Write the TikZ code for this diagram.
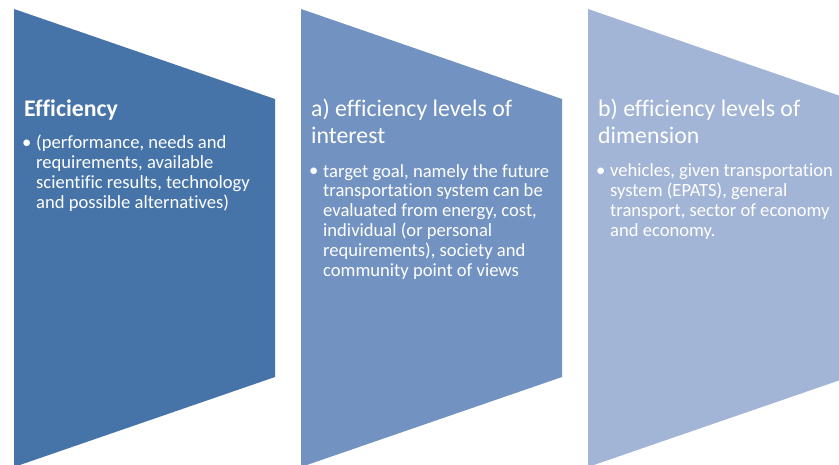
\documentclass[tikz,border=0pt]{standalone}
\usepackage{fontspec}
\setmainfont[Ligatures=NoCommon]{Carlito}
\definecolor{cone}{RGB}{70,116,169}
\definecolor{ctwo}{RGB}{114,147,193}
\definecolor{cthree}{RGB}{163,181,214}
\begin{document}
\begin{tikzpicture}[x=1pt,y=-1pt,
  headtxt/.style={anchor=base west,inner sep=0pt,text=white,align=left,font=\fontsize{23.8}{27}\selectfont},
  bultxt/.style={anchor=base west,inner sep=0pt,text=white,font=\fontsize{18.6}{20}\selectfont},
  bodytxt/.style={anchor=base west,inner sep=0pt,text=white,align=left,font=\fontsize{18.6}{20}\selectfont}]
\clip (0,0) rectangle (839,465);
\fill[white] (0,0) rectangle (839,465);
\fill[cone] (14,9) -- (275,99) -- (275,377) -- (14,467) -- cycle;
\fill[ctwo] (301,9) -- (562,99) -- (562,377) -- (301,467) -- cycle;
\fill[cthree] (588,9) -- (849,99) -- (849,377) -- (588,467) -- cycle;
% panel 1
\node[headtxt,font=\fontsize{23.8}{27}\selectfont\bfseries] (h1) at (24,117) {Efficiency};
\node[bultxt] (b1) at (22,149) {•};
\node[bodytxt] (t1) at (36,209) {(performance, needs and\\requirements, available\\scientific results, technology\\and possible alternatives)};
% panel 2
\node[headtxt] (h2) at (311,144) {a) efficiency levels of\\interest};
\node[bultxt] (b2) at (309,177) {•};
\node[bodytxt] (t2) at (323,277) {target goal, namely the future\\transportation system can be\\evaluated from energy, cost,\\individual (or personal\\requirements), society and\\community point of views};
% panel 3
\node[headtxt] (h3) at (598,144) {b) efficiency levels of\\dimension};
\node[bultxt] (b3) at (596,177) {•};
\node[bodytxt] (t3) at (610,237) {vehicles, given transportation\\system (EPATS), general\\transport, sector of economy\\and economy.};
\end{tikzpicture}
\end{document}
